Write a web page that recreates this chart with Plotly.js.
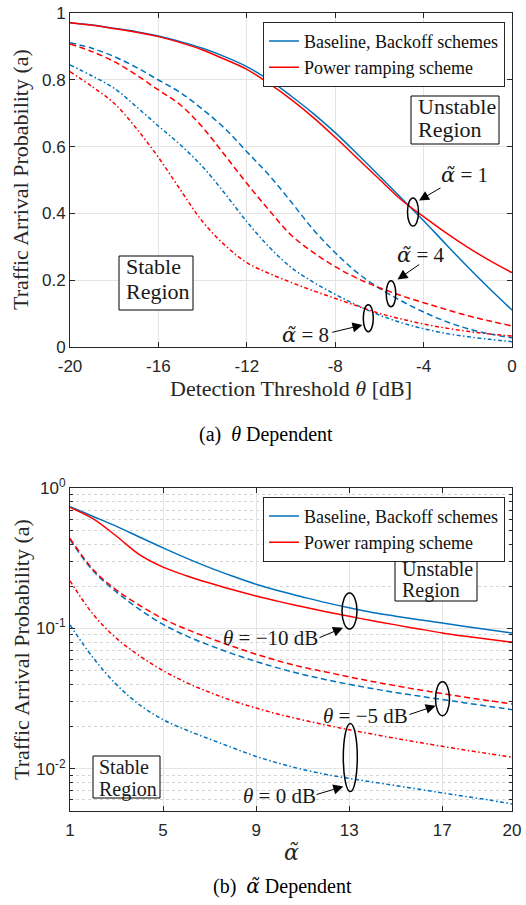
<!DOCTYPE html>
<html>
<head>
<meta charset="utf-8">
<script src="https://cdn.plot.ly/plotly-3.0.1.min.js"></script>
<style>
html, body { margin: 0; padding: 0; background: #ffffff; }
#chart { width: 526px; height: 905px; }
</style>
</head>
<body>
<div id="chart"></div>
<script>
// ---------- Data: panel (a) theta dependent ----------
const thetaDB = [-20, -19, -18, -17, -16, -15, -14, -13, -12, -11, -10, -9, -8, -7, -6, -5, -4, -3, -2, -1, 0];
const baselineAlpha1 = [0.972, 0.965, 0.955, 0.945, 0.932, 0.915, 0.895, 0.870, 0.840, 0.800, 0.752, 0.700, 0.642, 0.578, 0.512, 0.445, 0.378, 0.308, 0.239, 0.173, 0.110];
const rampingAlpha1  = [0.972, 0.964, 0.954, 0.943, 0.930, 0.912, 0.890, 0.862, 0.832, 0.790, 0.742, 0.688, 0.628, 0.565, 0.502, 0.440, 0.390, 0.342, 0.298, 0.258, 0.222];
const baselineAlpha4 = [0.912, 0.895, 0.870, 0.838, 0.800, 0.762, 0.712, 0.655, 0.585, 0.515, 0.435, 0.352, 0.282, 0.222, 0.175, 0.137, 0.104, 0.076, 0.054, 0.038, 0.027];
const rampingAlpha4  = [0.908, 0.885, 0.855, 0.815, 0.770, 0.725, 0.658, 0.575, 0.490, 0.410, 0.335, 0.283, 0.240, 0.205, 0.177, 0.153, 0.132, 0.112, 0.093, 0.077, 0.062];
const baselineAlpha8 = [0.845, 0.812, 0.775, 0.720, 0.662, 0.605, 0.540, 0.460, 0.375, 0.300, 0.238, 0.194, 0.157, 0.124, 0.095, 0.072, 0.054, 0.040, 0.030, 0.022, 0.015];
const rampingAlpha8  = [0.825, 0.780, 0.730, 0.655, 0.568, 0.470, 0.375, 0.305, 0.252, 0.220, 0.193, 0.168, 0.145, 0.122, 0.100, 0.083, 0.068, 0.056, 0.046, 0.038, 0.032];

// ---------- Data: panel (b) alpha dependent ----------
const alphaTilde = [1, 2, 3, 4, 5, 6, 7, 8, 9, 10, 11, 12, 13, 14, 15, 16, 17, 18, 19, 20];
const baselineThetaM10 = [0.74, 0.63, 0.535, 0.448, 0.376, 0.318, 0.272, 0.236, 0.207, 0.185, 0.168, 0.153, 0.1406, 0.1303, 0.1225, 0.1156, 0.1094, 0.1035, 0.098, 0.093];
const rampingThetaM10  = [0.73, 0.605, 0.455, 0.335, 0.274, 0.238, 0.211, 0.189, 0.1706, 0.1556, 0.1429, 0.1318, 0.1222, 0.1138, 0.1062, 0.0993, 0.0931, 0.0881, 0.0838, 0.080];
const baselineThetaM5  = [0.43, 0.257, 0.182, 0.1365, 0.107, 0.0887, 0.0759, 0.066, 0.0582, 0.052, 0.0471, 0.0432, 0.040, 0.0373, 0.035, 0.033, 0.0312, 0.0295, 0.0279, 0.0264];
const rampingThetaM5   = [0.44, 0.263, 0.188, 0.146, 0.1175, 0.0989, 0.0855, 0.0745, 0.0656, 0.0585, 0.053, 0.049, 0.0452, 0.0419, 0.0391, 0.0366, 0.0344, 0.0324, 0.0306, 0.029];
const baselineTheta0   = [0.106, 0.0617, 0.0398, 0.0285, 0.0224, 0.0189, 0.0163, 0.0141, 0.01225, 0.01092, 0.00989, 0.00912, 0.00855, 0.00805, 0.00759, 0.00715, 0.00673, 0.00635, 0.006, 0.0056];
const rampingTheta0    = [0.219, 0.126, 0.0851, 0.0638, 0.0501, 0.0412, 0.0351, 0.0305, 0.0271, 0.0244, 0.0223, 0.0205, 0.019, 0.01766, 0.01648, 0.01542, 0.01445, 0.0136, 0.01282, 0.0121];

// ---------- Tick labels ----------
const xTickVals1 = [-20, -16, -12, -8, -4, 0];
const xTickText1 = ['-20', '-16', '-12', '-8', '-4', '0'];
const yTickVals1 = [0, 0.2, 0.4, 0.6, 0.8, 1];
const yTickText1 = ['0', '0.2', '0.4', '0.6', '0.8', '1'];
const xTickVals2 = [1, 5, 9, 13, 17, 20];
const xTickText2 = ['1', '5', '9', '13', '17', '20'];
const yTickVals2 = [0.01, 0.1, 1];
const yTickText2 = ['10<sup>-2</sup>', '10<sup>-1</sup>', '10<sup>0</sup>'];
const yMinorVals2 = [0.006, 0.007, 0.008, 0.009, 0.02, 0.03, 0.04, 0.05, 0.06, 0.07, 0.08, 0.09, 0.2, 0.3, 0.4, 0.5, 0.6, 0.7, 0.8, 0.9];

const legendNames = ['Baseline, Backoff schemes', 'Power ramping scheme'];

// ---------- Styling helpers ----------
const W = 526, H = 905;
const px = x => x / W;
const py = y => 1 - y / H;
const BLUE = '#0072BD';
const RED = '#FF0000';
const DASH = '6px,3.5px';
const DASHDOT = '4px,2.5px,1.5px,2.5px';
const SERIF = 'Liberation Serif, Times New Roman, serif';
const SANS = 'Liberation Sans, Arial, sans-serif';
const INK = '#262626';
const ALPHA_T = '<span style="font-family:DejaVu Serif"><i>\u03B1\u0303</i></span>';

function tr(x, y, color, dash, xa, ya, name, legend) {
  return {
    type: 'scatter', mode: 'lines', x: x, y: y,
    xaxis: xa, yaxis: ya,
    line: { color: color, width: 1.5, dash: dash, shape: 'spline', smoothing: 1.0 },
    name: name || '', showlegend: !!name, legend: legend || 'legend',
    hoverinfo: 'skip'
  };
}

const traces = [
  tr(thetaDB, baselineAlpha1, BLUE, 'solid', 'x', 'y', legendNames[0], 'legend'),
  tr(thetaDB, rampingAlpha1, RED, 'solid', 'x', 'y', legendNames[1], 'legend'),
  tr(thetaDB, baselineAlpha4, BLUE, DASH, 'x', 'y'),
  tr(thetaDB, rampingAlpha4, RED, DASH, 'x', 'y'),
  tr(thetaDB, baselineAlpha8, BLUE, DASHDOT, 'x', 'y'),
  tr(thetaDB, rampingAlpha8, RED, DASHDOT, 'x', 'y'),
  tr(alphaTilde, baselineThetaM10, BLUE, 'solid', 'x2', 'y2', legendNames[0], 'legend2'),
  tr(alphaTilde, rampingThetaM10, RED, 'solid', 'x2', 'y2', legendNames[1], 'legend2'),
  tr(alphaTilde, baselineThetaM5, BLUE, DASH, 'x2', 'y2'),
  tr(alphaTilde, rampingThetaM5, RED, DASH, 'x2', 'y2'),
  tr(alphaTilde, baselineTheta0, BLUE, DASHDOT, 'x2', 'y2'),
  tr(alphaTilde, rampingTheta0, RED, DASHDOT, 'x2', 'y2')
];

const axisBase = {
  showline: true, linecolor: INK, linewidth: 1, mirror: 'ticks',
  ticks: 'inside', ticklen: 5, tickcolor: INK, tickwidth: 1,
  showgrid: true, gridcolor: '#e4e4e4', gridwidth: 1, zeroline: false,
  tickfont: { family: SANS, size: 17, color: INK },
  tickmode: 'array', fixedrange: true
};

const legendBase = {
  xanchor: 'right', yanchor: 'top',
  bgcolor: '#ffffff', bordercolor: INK, borderwidth: 1,
  font: { family: SERIF, size: 18, color: '#111' },
  itemwidth: 30, tracegroupgap: 0, traceorder: 'normal'
};

// ---------- Annotations ----------
const annotations = [];
function txt(text, x, y, size, opts) {
  annotations.push(Object.assign({
    text: text, xref: 'paper', yref: 'paper', x: px(x), y: py(y),
    xanchor: 'center', yanchor: 'middle', showarrow: false,
    font: { family: SERIF, size: size, color: '#1a1a1a' }
  }, opts || {}));
}
function arrow(tailX, tailY, tipX, tipY) {
  annotations.push({
    text: '', xref: 'paper', yref: 'paper', x: px(tipX), y: py(tipY),
    axref: 'pixel', ayref: 'pixel', ax: tailX - tipX, ay: tailY - tipY,
    showarrow: true, arrowhead: 2, arrowsize: 2, arrowwidth: 1, arrowcolor: '#000',
    standoff: 0, startstandoff: 0, font: { size: 1 }
  });
}

// axis titles
txt('Detection Threshold <i>θ</i> [dB]', 291, 388, 22, { font: { family: SERIF, size: 22, color: INK } });
txt('Traffic Arrival Probability (a)', 21, 180, 22, { textangle: -90, font: { family: SERIF, size: 22, color: INK } });
txt(ALPHA_T, 291, 852, 22, { font: { family: SERIF, size: 22, color: INK } });
txt('Traffic Arrival Probability (a)', 21, 650, 22, { textangle: -90, font: { family: SERIF, size: 22, color: INK } });
// captions
txt('(a)  <i>θ</i> Dependent', 266, 434, 20, { font: { family: SERIF, size: 20, color: '#000' } });
txt('(b)  ' + ALPHA_T + ' Dependent', 282, 886, 20, { font: { family: SERIF, size: 20, color: '#000' } });

// region labels
txt('Unstable', 416, 106.5, 22, { xanchor: 'left' });
txt('Region', 416, 130, 22, { xanchor: 'left' });
txt('Stable', 124, 266.5, 22, { xanchor: 'left' });
txt('Region', 124, 291.5, 22, { xanchor: 'left' });
txt('Unstable', 400, 569, 20, { xanchor: 'left' });
txt('Region', 400, 590.5, 20, { xanchor: 'left' });
txt('Stable', 97, 767, 20, { xanchor: 'left' });
txt('Region', 97, 789, 20, { xanchor: 'left' });

// curve labels
txt(ALPHA_T + ' = 1', 464, 175, 21);
txt(ALPHA_T + ' = 4', 420.5, 255.5, 21);
txt(ALPHA_T + ' = 8', 305, 335.5, 21);
txt('<i>θ</i> = −10 dB', 270.5, 638, 21);
txt('<i>θ</i> = −5 dB', 365, 715.5, 21);
txt('<i>θ</i> = 0 dB', 279, 796, 21);

arrow(442, 187, 419, 200.5);
arrow(420.7, 263.5, 397.5, 279.5);
arrow(330.7, 332.7, 362.5, 325);
arrow(318, 638.3, 343, 627.7);
arrow(408, 715, 435.7, 705.7);
arrow(315, 795, 343.3, 786.5);

// ---------- Shapes: region boxes and ellipses ----------
const shapes = [];
function box(x0, y0, x1, y1) {
  shapes.push({ type: 'rect', xref: 'paper', yref: 'paper', x0: px(x0), x1: px(x1), y0: py(y1), y1: py(y0),
    line: { color: '#000', width: 1 }, fillcolor: '#ffffff', layer: 'above' });
}
function ellipse(cx, cy, w, h) {
  shapes.push({ type: 'circle', xref: 'paper', yref: 'paper', x0: px(cx - w / 2), x1: px(cx + w / 2), y0: py(cy + h / 2), y1: py(cy - h / 2),
    line: { color: '#000', width: 1.5 }, layer: 'above' });
}
box(411, 96, 499, 144);
box(119, 256, 193, 310);
box(395, 557, 477, 601);
box(93, 756, 160, 798);
ellipse(413, 212, 11, 28);
ellipse(391, 293.7, 9.5, 26);
ellipse(368.3, 318.3, 10, 27);
ellipse(349.5, 611, 15, 36);
ellipse(442.5, 698.7, 14, 34);
ellipse(350.3, 757.5, 14, 68);

const layout = {
  width: W, height: H,
  margin: { l: 0, r: 0, t: 0, b: 0 },
  paper_bgcolor: '#ffffff', plot_bgcolor: '#ffffff',
  showlegend: true,
  xaxis: Object.assign({}, axisBase, { domain: [px(70), px(512)], anchor: 'y', range: [-20, 0], tickvals: xTickVals1, ticktext: xTickText1, ticklabelstandoff: 4 }),
  yaxis: Object.assign({}, axisBase, { domain: [py(346.7), py(13.3)], anchor: 'x', range: [0, 1], tickvals: yTickVals1, ticktext: yTickText1 }),
  xaxis2: Object.assign({}, axisBase, { domain: [px(70), px(512)], anchor: 'y2', range: [1, 20], tickvals: xTickVals2, ticktext: xTickText2, ticklabelstandoff: 4 }),
  yaxis2: Object.assign({}, axisBase, {
    domain: [py(811), py(488.3)], anchor: 'x2', type: 'log',
    range: [Math.log10(0.005), 0], tickvals: yTickVals2, ticktext: yTickText2,
    minor: { tickmode: 'array', tickvals: yMinorVals2, ticks: 'inside', ticklen: 3, tickcolor: INK,
             showgrid: true, gridcolor: '#d4d4d4', griddash: 'dot', gridwidth: 1 }
  }),
  legend: Object.assign({}, legendBase, { x: px(505), y: py(21.7) }),
  legend2: Object.assign({}, legendBase, { x: px(505), y: py(496.7) }),
  annotations: annotations,
  shapes: shapes
};

Plotly.newPlot('chart', traces, layout, { displayModeBar: false, staticPlot: true });
</script>
</body>
</html>
